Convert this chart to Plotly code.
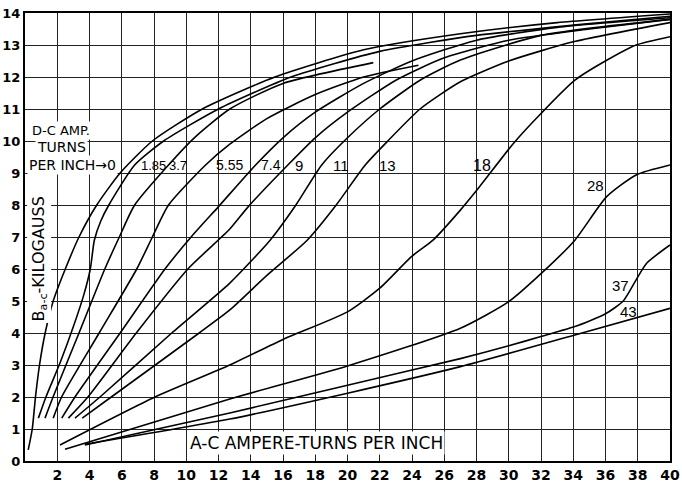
import plotly.graph_objects as go

# ---- data ----
dc_labels = ["0", "1.85", "3.7", "5.55", "7.4", "9", "11", "13", "18", "28", "37", "43"]

x_c0 = [0.2, 0.45, 0.65, 0.9, 1.25, 1.75, 2.5, 3.35, 4.45, 5.9, 7.9, 11, 15.5, 21, 27, 33, 40]
y_c0 = [0.35, 1, 2, 3, 4, 5, 6, 7, 8, 9, 10, 11, 12, 12.85, 13.35, 13.7, 13.97]

x_c1 = [0.83, 1.3, 2.2, 3.0, 3.65, 4.05, 4.3, 4.7, 5.2, 6.8, 8.6, 12, 16.5, 22, 28, 34, 40]
y_c1 = [1.34, 2.0, 3.1, 4.2, 5.2, 6.0, 6.9, 7.5, 8.0, 9.25, 10, 11, 12, 12.8, 13.3, 13.62, 13.9]

x_c2 = [1.24, 1.74, 3.35, 4.95, 5.85, 6.8, 8.9, 10.5, 12.7, 16, 21.6]
y_c2 = [1.34, 2.0, 4.0, 6.0, 7.0, 8.0, 9.25, 10.1, 11.0, 11.8, 12.45]

x_c3 = [1.75, 2.27, 4.6, 6.93, 7.9, 8.9, 11.2, 12.7, 15, 18, 21, 24.4]
y_c3 = [1.34, 2.0, 4.0, 6.0, 7.0, 8.0, 9.25, 9.9, 10.7, 11.45, 12.0, 12.37]

x_c4 = [2.28, 3.1, 5.9, 8.68, 10.3, 12.0, 14.3, 16, 18, 21, 24, 28, 33, 40]
y_c4 = [1.34, 2.0, 4.0, 6.0, 7.0, 7.95, 9.25, 10.1, 10.9, 11.8, 12.5, 13.15, 13.55, 13.85]

x_c5 = [2.69, 3.9, 6.9, 10.1, 12.7, 13.85, 16.3, 18, 20, 23, 26, 30, 35, 40]
y_c5 = [1.34, 2.0, 4.0, 6.0, 7.25, 7.95, 9.25, 10.1, 10.9, 11.9, 12.6, 13.15, 13.5, 13.8]

x_c6 = [3.1, 4.65, 9.1, 12.7, 15.2, 16.8, 18.4, 20, 22, 24.5, 27, 32, 40]
y_c6 = [1.34, 2.0, 4.0, 5.56, 6.9, 8.0, 9.25, 10.1, 11, 11.9, 12.53, 13.3, 13.8]

x_c7 = [3.55, 5.35, 10.8, 12.7, 15, 17.5, 19.3, 21.1, 22.5, 24.5, 27, 30, 34, 40]
y_c7 = [1.34, 2.0, 4.0, 4.72, 5.8, 6.9, 8.0, 9.25, 10, 11, 11.85, 12.5, 13.1, 13.7]

x_c8 = [2.17, 8.06, 12.7, 16, 20, 22, 24, 25.3, 27, 28, 30.3, 32, 34.1, 36.1, 37.9, 40]
y_c8 = [0.5, 2.0, 3.0, 3.8, 4.66, 5.4, 6.4, 6.9, 7.84, 8.45, 9.93, 10.86, 11.9, 12.53, 13.0, 13.26]

x_c9 = [2.48, 12.7, 20, 27, 30, 32.1, 34.1, 36.07, 37.9, 40]
y_c9 = [0.37, 1.94, 2.97, 4.15, 4.98, 5.9, 6.9, 8.26, 8.94, 9.25]

x_c10 = [3.72, 12.7, 20, 27, 30, 32.05, 34.1, 36, 37.1, 37.9, 38.55, 40]
y_c10 = [0.5, 1.5, 2.37, 3.2, 3.6, 3.9, 4.2, 4.6, 5.0, 5.66, 6.18, 6.75]

x_c11 = [3.7, 12.7, 20, 27, 34.1, 40]
y_c11 = [0.52, 1.31, 2.12, 2.95, 3.94, 4.77]

# label positions (x, y) for the curve labels
label_x = [None, 7.95, 9.5, 12.7, 15.25, 17.0, 19.6, 22.45, 28.35, 35.4, 36.9, 37.4]
label_y = [None, 9.25, 9.25, 9.25, 9.25, 9.25, 9.25, 9.25, 9.25, 8.6, 5.5, 4.66]
label_size = [None, 13, 13, 14, 14, 15, 15, 15, 16, 15, 15, 15]

x_ticks = list(range(2, 41, 2))
y_ticks = list(range(0, 15))

curves_x = [x_c0, x_c1, x_c2, x_c3, x_c4, x_c5, x_c6, x_c7, x_c8, x_c9, x_c10, x_c11]
curves_y = [y_c0, y_c1, y_c2, y_c3, y_c4, y_c5, y_c6, y_c7, y_c8, y_c9, y_c10, y_c11]

FONT = "Liberation Sans, Arial, sans-serif"
WIDE = "DejaVu Sans, Verdana, sans-serif"

fig = go.Figure()
for name, xs, ys in zip(dc_labels, curves_x, curves_y):
    fig.add_trace(go.Scatter(x=xs, y=ys, mode="lines", name=name,
                             line=dict(color="black", width=1.6, shape="spline", smoothing=0.6),
                             showlegend=False, hoverinfo="skip"))

for lab, lx, ly, ls in zip(dc_labels, label_x, label_y, label_size):
    if lx is None:
        continue
    fig.add_annotation(x=lx, y=ly, text=lab, showarrow=False,
                       font=dict(family=FONT, size=ls, color="black"),
                       xanchor="center", yanchor="middle")

# D-C legend block
fig.add_annotation(x=0.3, y=10.34, text="D-C AMP.", showarrow=False, xanchor="left", yanchor="middle",
                   font=dict(family=WIDE, size=13, color="black"), bgcolor="white", borderpad=1)
fig.add_annotation(x=0.62, y=9.81, text="TURNS", showarrow=False, xanchor="left", yanchor="middle",
                   font=dict(family=WIDE, size=14, color="black"), bgcolor="white", borderpad=1)
fig.add_annotation(x=0.1, y=9.25, text="PER INCH\u2192" + dc_labels[0], showarrow=False, xanchor="left",
                   yanchor="middle", font=dict(family=WIDE, size=14, color="black"),
                   bgcolor="white", borderpad=1)

# axis titles placed inside the plot as in the reference
fig.add_annotation(x=0.87, y=6.3, text="B<sub>a-c</sub>-KILOGAUSS", textangle=-90, showarrow=False,
                   font=dict(family=WIDE, size=16, color="black"), bgcolor="white", borderpad=1)
fig.add_annotation(x=18.05, y=0.55, text="A-C AMPERE-TURNS PER INCH", showarrow=False,
                   font=dict(family=WIDE, size=17, color="black"), bgcolor="white", borderpad=1)

fig.update_xaxes(range=[0, 40], tickvals=x_ticks, ticktext=[str(v) for v in x_ticks],
                 showgrid=True, gridcolor="#222", gridwidth=1, showline=True, linecolor="black",
                 linewidth=2, mirror=True, ticks="", zeroline=False, automargin=False,
                 tickfont=dict(family=WIDE, size=14, color="black", weight="bold"))
fig.update_yaxes(range=[0, 14], tickvals=y_ticks, ticktext=[str(v) for v in y_ticks],
                 showgrid=True, gridcolor="#222", gridwidth=1, showline=True, linecolor="black",
                 linewidth=2, mirror=True, ticks="", zeroline=False, automargin=False,
                 tickfont=dict(family=WIDE, size=13, color="black", weight="bold"))

fig.update_layout(width=682, height=483, margin=dict(l=25, r=12, t=13, b=22),
                  plot_bgcolor="white", paper_bgcolor="white")

# remove the page's default body margin so the figure sits at the window's top-left corner
fig.write_html("out.html", config={"displayModeBar": False},
               post_script="document.body.style.margin='0';document.body.style.padding='0';"
                           "document.body.style.overflow='hidden';")
